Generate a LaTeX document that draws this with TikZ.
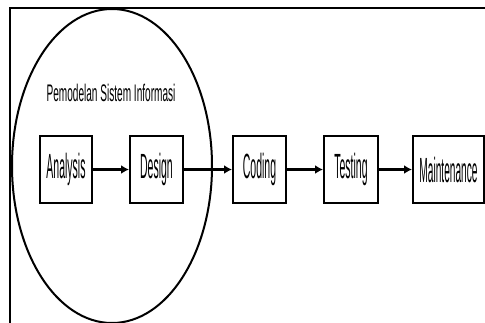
\documentclass[tikz,border=0pt]{standalone}
\usepackage{fontspec}
\setmainfont{Liberation Sans}
\usetikzlibrary{arrows.meta,shapes.geometric}
% narrow lettering: squeeze the glyphs horizontally
\newcommand{\narrowtxt}[2]{\scalebox{#1}[1]{#2}}
\begin{document}
\begin{tikzpicture}[x=1pt,y=-1pt,
  stagebox/.style={draw, line width=2pt, minimum height=67pt, inner sep=0pt,
    font=\fontsize{35}{35}\selectfont},
  flow/.style={line width=2.2pt, -{Latex[length=8pt,width=9pt]}},
  frameline/.style={line width=2.4pt}]
  \useasboundingbox (0,0) rectangle (485,322);
  \begin{scope}
    \clip (0,0) rectangle (485,322);
    % open frame: top and left edges
    \coordinate (ftl) at (10,8);
    \coordinate (ftr) at (486,8);
    \coordinate (fbl) at (10,323);
    \draw[frameline] (ftr) -- (ftl) -- (fbl);
    % scope ellipse for the modelling stages
    \node[draw, line width=2pt, ellipse, minimum width=200pt, minimum height=314pt,
      inner sep=0pt] (scopeell) at (112,166) {};
  \end{scope}
  \node[font=\fontsize{24}{24}\selectfont] (title) at (111,93)
    {\narrowtxt{0.42}{Pemodelan Sistem Informasi}};
  \node[stagebox, minimum width=52pt] (analysis) at (66,169.5) {\narrowtxt{0.30}{Analysis}};
  \node[stagebox, minimum width=53pt] (design) at (156.5,169.5) {\narrowtxt{0.30}{Design}};
  \node[stagebox, minimum width=53pt] (coding) at (259.5,169.5) {\narrowtxt{0.30}{Coding}};
  \node[stagebox, minimum width=54pt] (testing) at (351,169.5) {\narrowtxt{0.30}{Testing}};
  \node[stagebox, minimum width=71pt] (maint) at (448.5,169.5) {\narrowtxt{0.29}{Maintenance}};
  \draw[flow] (analysis) -- (design);
  \draw[flow] (design) -- (coding);
  \draw[flow] (coding) -- (testing);
  \draw[flow] (testing) -- (maint);
\end{tikzpicture}
\end{document}
